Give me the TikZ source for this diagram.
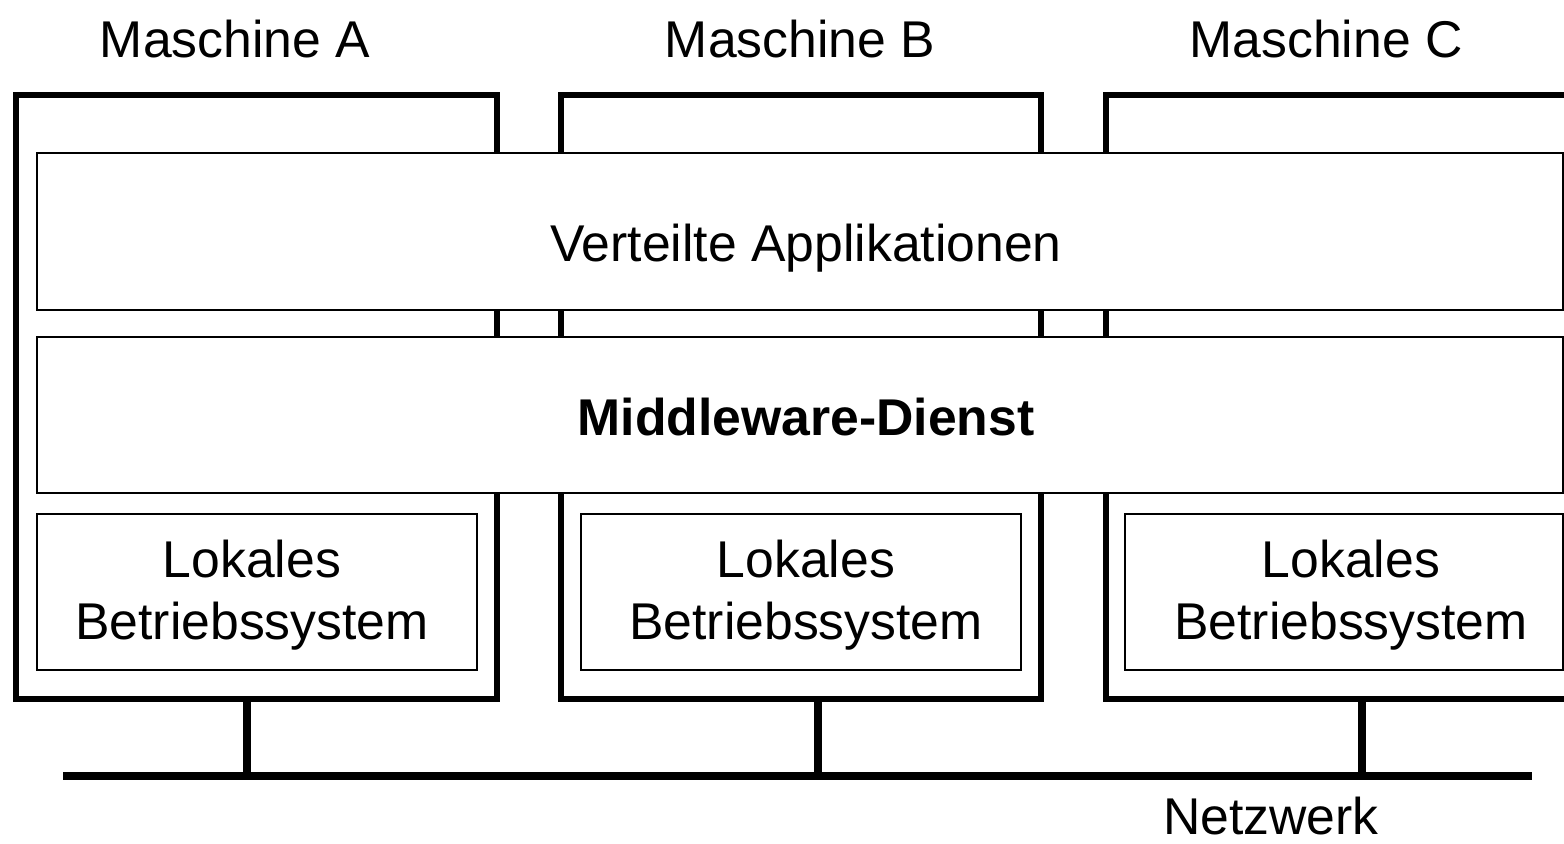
\documentclass[tikz,border=0pt]{standalone}
\usepackage{fontspec}
\setmainfont{Liberation Sans}
\usetikzlibrary{fit}
\begin{document}
\begin{tikzpicture}[x=0.5pt,y=-0.5pt,
  machine/.style={draw=black, line width=3pt, rectangle, inner sep=0pt, fill=none},
  band/.style={draw=black, line width=1.25pt, rectangle, inner sep=0pt, fill=white},
  osbox/.style={draw=black, line width=1.25pt, rectangle, inner sep=0pt, fill=white},
  drop/.style={line width=3.6pt},
  netline/.style={line width=4pt},
  lbl/.style={inner sep=0pt, anchor=base, font=\fontsize{25.85pt}{31pt}\selectfont},
  blbl/.style={lbl, font=\fontsize{25.85pt}{31pt}\selectfont\bfseries}]
  \useasboundingbox (0,0) rectangle (1564,843);
  \clip (0,0) rectangle (1564,843);

  % machine frames (the third one runs past the right edge)
  \node[machine, fit={(16,95) (497,699)}] (mA) {};
  \node[machine, fit={(561,95) (1041,699)}] (mB) {};
  \node[machine, fit={(1106,95) (1600,699)}] (mC) {};

  % machine titles
  \node[lbl] (tA) at (235,57) {Maschine A};
  \node[lbl] (tB) at (800,57) {Maschine B};
  \node[lbl] (tC) at (1326,57) {Maschine C};

  % shared layers spanning all machines
  \node[band, fit={(37,153) (1563,310)}] (app) {};
  \node[band, fit={(37,337) (1563,493)}] (mw) {};
  \node[lbl] (appT) at (806,261) {Verteilte Applikationen};
  \node[blbl] (mwT) at (806,435) {Middleware-Dienst};

  % local operating systems
  \node[osbox, fit={(37,514) (477,670)}] (osA) {};
  \node[osbox, fit={(581,514) (1021,670)}] (osB) {};
  \node[osbox, fit={(1125,514) (1563,670)}] (osC) {};
  \node[lbl] (osA1) at (252,577) {Lokales};
  \node[lbl] (osA2) at (252,639) {Betriebssystem};
  \node[lbl] (osB1) at (806,577) {Lokales};
  \node[lbl] (osB2) at (806,639) {Betriebssystem};
  \node[lbl] (osC1) at (1351,577) {Lokales};
  \node[lbl] (osC2) at (1351,639) {Betriebssystem};

  % network bus and machine attachments
  \coordinate (netL) at (63,776);
  \coordinate (netR) at (1532,776);
  \coordinate (dA) at (247,776);
  \coordinate (dB) at (818,776);
  \coordinate (dC) at (1362,776);
  \draw[drop] (mA.south -| dA) -- (dA);
  \draw[drop] (mB.south -| dB) -- (dB);
  \draw[drop] (mC.south -| dC) -- (dC);
  \draw[netline] (netL) -- (netR);
  \node[lbl] (net) at (1271,834) {Netzwerk};
\end{tikzpicture}
\end{document}
